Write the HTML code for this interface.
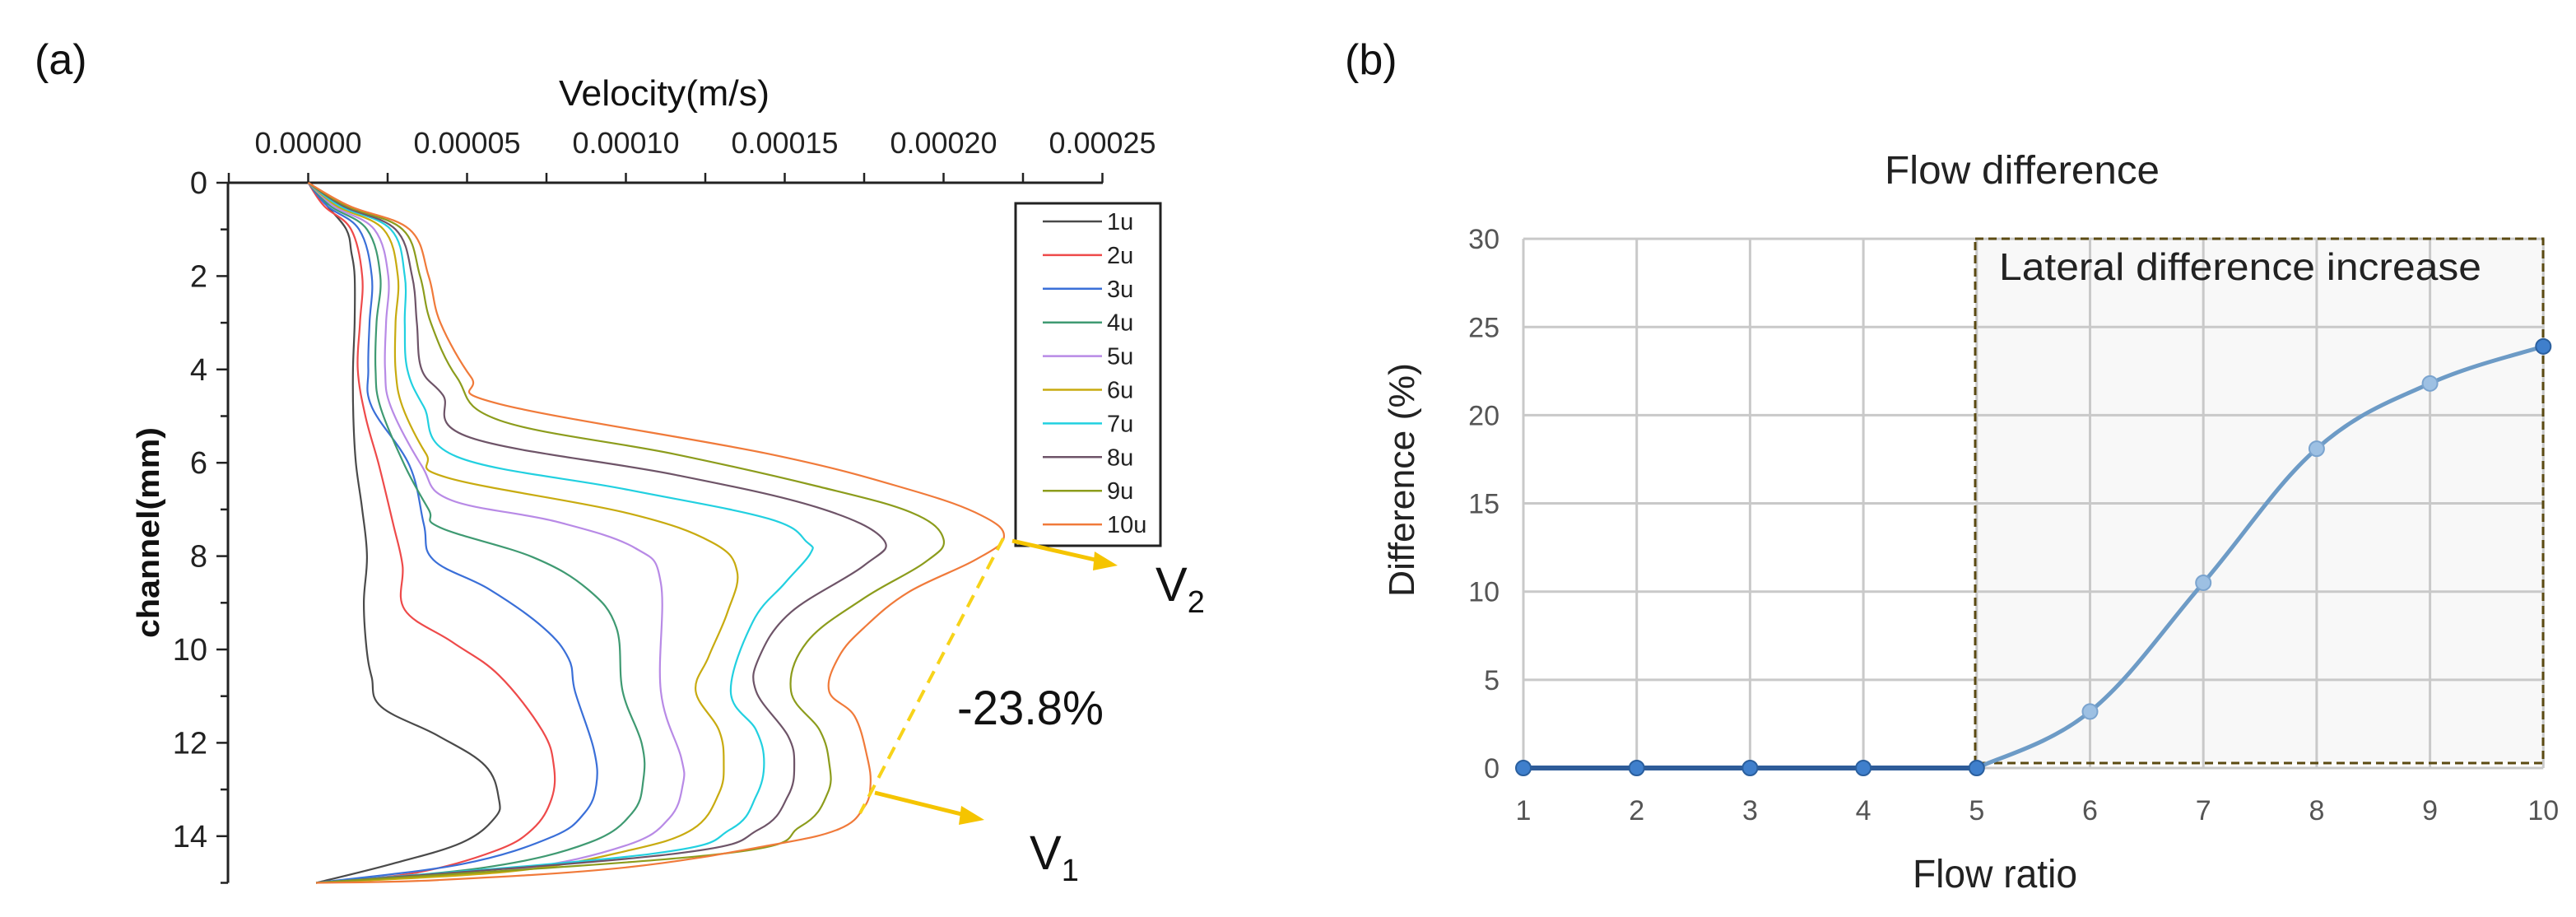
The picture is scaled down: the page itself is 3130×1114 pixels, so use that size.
<!DOCTYPE html>
<html><head><meta charset="utf-8"><style>
html,body{margin:0;padding:0;background:#fff;}
svg{display:block;}
text{font-family:"Liberation Sans",sans-serif;}
</style></head>
<body>
<svg id="fig" width="3130" height="1114" viewBox="0 0 3130 1114">
  <g id="panelA">
    <text x="42" y="90" font-size="52" fill="#111">(a)</text>
    <text x="807" y="128" font-size="44" text-anchor="middle" textLength="256" lengthAdjust="spacingAndGlyphs" fill="#111">Velocity(m/s)</text>
    <text transform="translate(193,647) rotate(-90)" font-size="38" font-weight="bold" text-anchor="middle" textLength="256" lengthAdjust="spacingAndGlyphs" fill="#111">channel(mm)</text>
    <g id="aAxes"></g>
    <g id="aLines"></g>
    <g id="aLegend">
      <rect x="1234" y="247" width="176" height="416" fill="#fff" stroke="#222" stroke-width="3"/>
    </g>
    <g>
      <line x1="1219" y1="654" x2="1045" y2="988" stroke="#f7d31a" stroke-width="4" stroke-dasharray="16 10"/>
      <line x1="1230" y1="657" x2="1335" y2="681" stroke="#f5c400" stroke-width="5"/>
      <polygon points="1358,687 1330,670 1328,693" fill="#f5c400"/>
      <line x1="1063" y1="963" x2="1172" y2="990" stroke="#f5c400" stroke-width="5"/>
      <polygon points="1196,996 1168,979 1165,1002" fill="#f5c400"/>
      <text x="1163" y="880" font-size="58" textLength="178" lengthAdjust="spacingAndGlyphs" fill="#111">-23.8%</text>
      <text x="1404" y="730" font-size="58" fill="#111">V<tspan font-size="38" dy="14">2</tspan></text>
      <text x="1251" y="1056" font-size="58" fill="#111">V<tspan font-size="38" dy="14">1</tspan></text>
    </g>
  </g>
  <g id="panelB">
    <text x="1634" y="90" font-size="52" fill="#111">(b)</text>
    <text x="2457" y="223" font-size="48" text-anchor="middle" textLength="334" lengthAdjust="spacingAndGlyphs" fill="#222">Flow difference</text>
    <text x="2424" y="1078" font-size="48" text-anchor="middle" textLength="200" lengthAdjust="spacingAndGlyphs" fill="#222">Flow ratio</text>
    <text transform="translate(1718,583) rotate(-90)" font-size="44" text-anchor="middle" textLength="284" lengthAdjust="spacingAndGlyphs" fill="#222">Difference  (%)</text>
    <rect x="2400" y="290" width="690" height="637" fill="#f8f8f8"/>
    <g id="bGrid"></g>
    <rect x="2400" y="290" width="690" height="637" fill="none" stroke="#5b4a12" stroke-width="3" stroke-dasharray="10 6"/>
    <text x="2429" y="340" font-size="46" textLength="586" lengthAdjust="spacingAndGlyphs" fill="#222">Lateral difference increase</text>
    <g id="bSeries"></g>
  </g>
</svg>
<script>
// ---------- Panel (a) data: velocity in 1e-5 m/s, depth in mm ----------
const aSeriesNames = ["1u","2u","3u","4u","5u","6u","7u","8u","9u","10u"];
const aColors = ["#4a4a4a","#ee4a4a","#3a6fd8","#3f9a72","#b88ae6","#c8ab10","#22d0e0","#6e5468","#8c9c1c","#f07a3a"];
const depth_1u = [0,0.5,1,1.5,2,3,4,5,6,7,8,9,10,10.6,11.23,11.85,12.49,13.2,13.61,14.14,14.6,15];
const vel_1u   = [0,0.6,1.2,1.36,1.46,1.46,1.41,1.42,1.5,1.7,1.85,1.75,1.84,2.0,2.3,4.09,5.57,6.0,5.87,4.83,2.6,0.25];
const depth_2u = [0,0.5,1,2,3,4,5,6.06,7.3,8.2,9.15,9.84,10.55,11.73,12.49,13.2,13.85,14.32,14.79,15];
const vel_2u   = [0,0.5,1.35,1.7,1.63,1.56,1.8,2.23,2.67,2.97,3.04,4.53,6.0,7.36,7.73,7.66,7.06,5.87,3.34,0.25];
const depth_3u = [0,0.5,1,2,3,4,4.8,6.06,7.32,8.08,8.71,9.53,10.2,10.9,12.14,12.9,13.5,14.02,14.6,15];
const vel_3u   = [0,0.6,1.6,2.0,1.93,1.89,2.0,3.19,3.64,3.94,5.7,7.4,8.2,8.4,8.99,9.07,8.7,7.66,4.83,0.25];
const depth_4u = [0,0.5,1,2,3,4,4.8,6.06,7.0,7.39,8.02,8.71,9.53,10.9,12.02,12.79,13.5,14.14,14.67,15];
const vel_4u   = [0,0.7,1.85,2.27,2.15,2.12,2.27,3.04,3.79,4.16,7.06,8.8,9.7,9.9,10.5,10.55,10.2,8.84,5.57,0.25];
const depth_5u = [0,0.5,1,2,3,4,4.8,6.06,6.79,7.26,7.83,8.58,10.9,12.32,12.9,13.61,14.2,14.73,15];
const vel_5u   = [0,0.8,2.08,2.52,2.45,2.42,2.6,3.57,4.46,7.8,10.3,11.1,11.1,11.74,11.79,11.37,10.0,6.32,0.25];
const depth_6u = [0,0.5,1,2,3,4,4.8,5.81,6.32,7.07,7.7,8.33,9.2,10.16,10.9,11.73,12.43,13.08,13.85,14.32,14.76,15];
const vel_6u   = [0,0.9,2.37,2.82,2.75,2.75,2.97,3.71,4.38,10,12.7,13.5,13.2,12.6,12.2,12.93,13.08,12.93,12.1,10,6.3,0.25];
const depth_7u = [0,0.5,1,2,3,4,4.8,5.87,6.57,7.2,7.7,7.95,8.58,9.4,10.9,11.73,12.43,13.14,13.85,14.38,15];
const vel_7u   = [0,1.0,2.6,3.04,3.04,3.12,3.64,4.68,10,14.5,15.7,15.8,15,14,13.3,14.1,14.35,14.1,13.3,10.8,0.25];
const depth_8u = [0,0.5,1,2,3,4,4.55,5.46,6.25,6.95,7.64,8.2,9.2,10.16,10.9,11.85,12.49,13.14,13.85,14.38,15];
const vel_8u   = [0,1.1,2.75,3.27,3.42,3.57,4.24,5.1,11.5,16,18.1,17.5,15.2,14.2,14.1,15.1,15.3,15.1,14.2,11.5,0.25];
const depth_9u = [0,0.5,1,2,3,4.17,5.09,5.81,6.5,7.07,7.64,8.14,8.9,9.84,10.9,11.73,12.43,13.08,13.79,14.38,15];
const vel_9u   = [0,1.2,2.97,3.52,3.86,4.68,6.02,11.5,16,19,20,19.4,17.5,15.7,15.2,16.1,16.4,16.35,15.5,13.0,0.25];
const depth_10u = [0,0.5,1,2,3,4.17,4.74,5.81,6.57,7.13,7.6,8.08,8.77,9.53,10.16,10.9,11.43,12.32,12.9,13.38,13.85,14.2,14.67,14.94,15];
const vel_10u   = [0,1.3,3.19,3.79,4.16,5.13,6.02,14.5,18.9,21.2,21.9,21.0,18.9,17.5,16.7,16.4,17.2,17.6,17.7,17.5,16.7,14.5,10.0,4.1,0.25];
const aDepths = [depth_1u,depth_2u,depth_3u,depth_4u,depth_5u,depth_6u,depth_7u,depth_8u,depth_9u,depth_10u];
const aVels = [vel_1u,vel_2u,vel_3u,vel_4u,vel_5u,vel_6u,vel_7u,vel_8u,vel_9u,vel_10u];
const aXTickValues = [0,5,10,15,20,25];
const aXTickLabels = ["0.00000","0.00005","0.00010","0.00015","0.00020","0.00025"];
const aYTickValues = [0,2,4,6,8,10,12,14];

// ---------- Panel (b) data ----------
const bRatios = [1,2,3,4,5,6,7,8,9,10];
const bDiff = [0,0,0,0,0,3.2,10.5,18.1,21.8,23.9];
const bYTicks = [0,5,10,15,20,25,30];

const NS = "http://www.w3.org/2000/svg";
function mk(tag, attrs, parent){const e=document.createElementNS(NS,tag);for(const k in attrs)e.setAttribute(k,attrs[k]);parent.appendChild(e);return e;}

const aX = v => 374.5 + v*38.6;
const aY = d => 222 + d*56.7;
function smoothPath(pts){
  let d = "M"+pts[0][0].toFixed(1)+","+pts[0][1].toFixed(1);
  for(let i=0;i<pts.length-1;i++){
    const p0=pts[Math.max(0,i-1)],p1=pts[i],p2=pts[i+1],p3=pts[Math.min(pts.length-1,i+2)];
    const t=0.18;
    const c1=[p1[0]+(p2[0]-p0[0])*t,p1[1]+(p2[1]-p0[1])*t];
    const c2=[p2[0]-(p3[0]-p1[0])*t,p2[1]-(p3[1]-p1[1])*t];
    d+=" C"+c1[0].toFixed(1)+","+c1[1].toFixed(1)+" "+c2[0].toFixed(1)+","+c2[1].toFixed(1)+" "+p2[0].toFixed(1)+","+p2[1].toFixed(1);
  }
  return d;
}

const aAxes=document.getElementById("aAxes");
let el;
el=mk("line",{x1:277,y1:aY(0),x2:1340,y2:aY(0),stroke:"#222","stroke-width":3},aAxes);


el=mk("line",{x1:277,y1:aY(0),x2:277,y2:aY(15),stroke:"#222","stroke-width":3},aAxes);


for(let v=-2.5; v<=25.01; v+=2.5){
  el=mk("line",{x1:aX(v),y1:aY(0),x2:aX(v),y2:aY(0)-12,stroke:"#222","stroke-width":2.5},aAxes);
  
  
}
aXTickValues.forEach((v,i)=>{
  el=mk("text",{x:aX(v),y:186,"font-size":36,"text-anchor":"middle",textLength:130,lengthAdjust:"spacingAndGlyphs",fill:"#222"},aAxes);
  el.textContent=aXTickLabels[i];
  
  
});
for(let d=0; d<=15; d+=1){
  el=mk("line",{x1:277,y1:aY(d),x2:d%2===0?263:268,y2:aY(d),stroke:"#222","stroke-width":2.5},aAxes);
  
  
}
aYTickValues.forEach(d=>{
  el=mk("text",{x:252,y:aY(d)+13,"font-size":38,"text-anchor":"end",fill:"#222"},aAxes);
  el.textContent=String(d);
  
  
});

const aLines=document.getElementById("aLines");
aSeriesNames.forEach((n,i)=>{
  const pts=aDepths[i].map((d,j)=>[aX(aVels[i][j]),aY(d)]);
  el=mk("path",{d:smoothPath(pts),fill:"none",stroke:aColors[i],"stroke-width":2.2,"stroke-linejoin":"round"},aLines);
  
  
});

const aLegend=document.getElementById("aLegend");
aSeriesNames.forEach((n,i)=>{
  const y=269+i*40.9;
  el=mk("line",{x1:1267,y1:y,x2:1339,y2:y,stroke:aColors[i],"stroke-width":2.5},aLegend);
  
  
  el=mk("text",{x:1345,y:y+10,"font-size":29,fill:"#222"},aLegend);
  el.textContent=n;
  
  
});

// panel b
const bX = r => 1851 + (r-1)*137.7;
const bY = v => 933 - v*21.43;
const bGrid=document.getElementById("bGrid");
bYTicks.forEach(v=>{
  el=mk("line",{x1:bX(1),y1:bY(v),x2:bX(10),y2:bY(v),stroke:"#c9c9c9","stroke-width":3},bGrid);
  
  
  el=mk("text",{x:1822,y:bY(v)+12,"font-size":34,"text-anchor":"end",fill:"#555"},bGrid);
  el.textContent=String(v);
  
  
});
bRatios.forEach(r=>{
  el=mk("line",{x1:bX(r),y1:bY(30),x2:bX(r),y2:bY(0),stroke:"#c9c9c9","stroke-width":3},bGrid);
  
  
  el=mk("text",{x:bX(r),y:996,"font-size":34,"text-anchor":"middle",fill:"#555"},bGrid);
  el.textContent=String(r);
  
  
});

const bSeries=document.getElementById("bSeries");
const bPts=bRatios.map((r,i)=>[bX(r),bY(bDiff[i])]);
el=mk("path",{d:smoothPath(bPts.slice(4)),fill:"none",stroke:"#6d9bc6","stroke-width":5},bSeries);


el=mk("path",{d:smoothPath(bPts.slice(0,5)),fill:"none",stroke:"#2e5c99","stroke-width":6},bSeries);


bPts.forEach((p,i)=>{
  const dark = i<5 || i===9;
  el=mk("circle",{cx:p[0],cy:p[1],r:9,fill:dark?"#3f7fcc":"#9dc0e3",stroke:dark?"#2a5f9e":"#7ba4cf","stroke-width":2},bSeries);
  
  
});
</script>
</body></html>
